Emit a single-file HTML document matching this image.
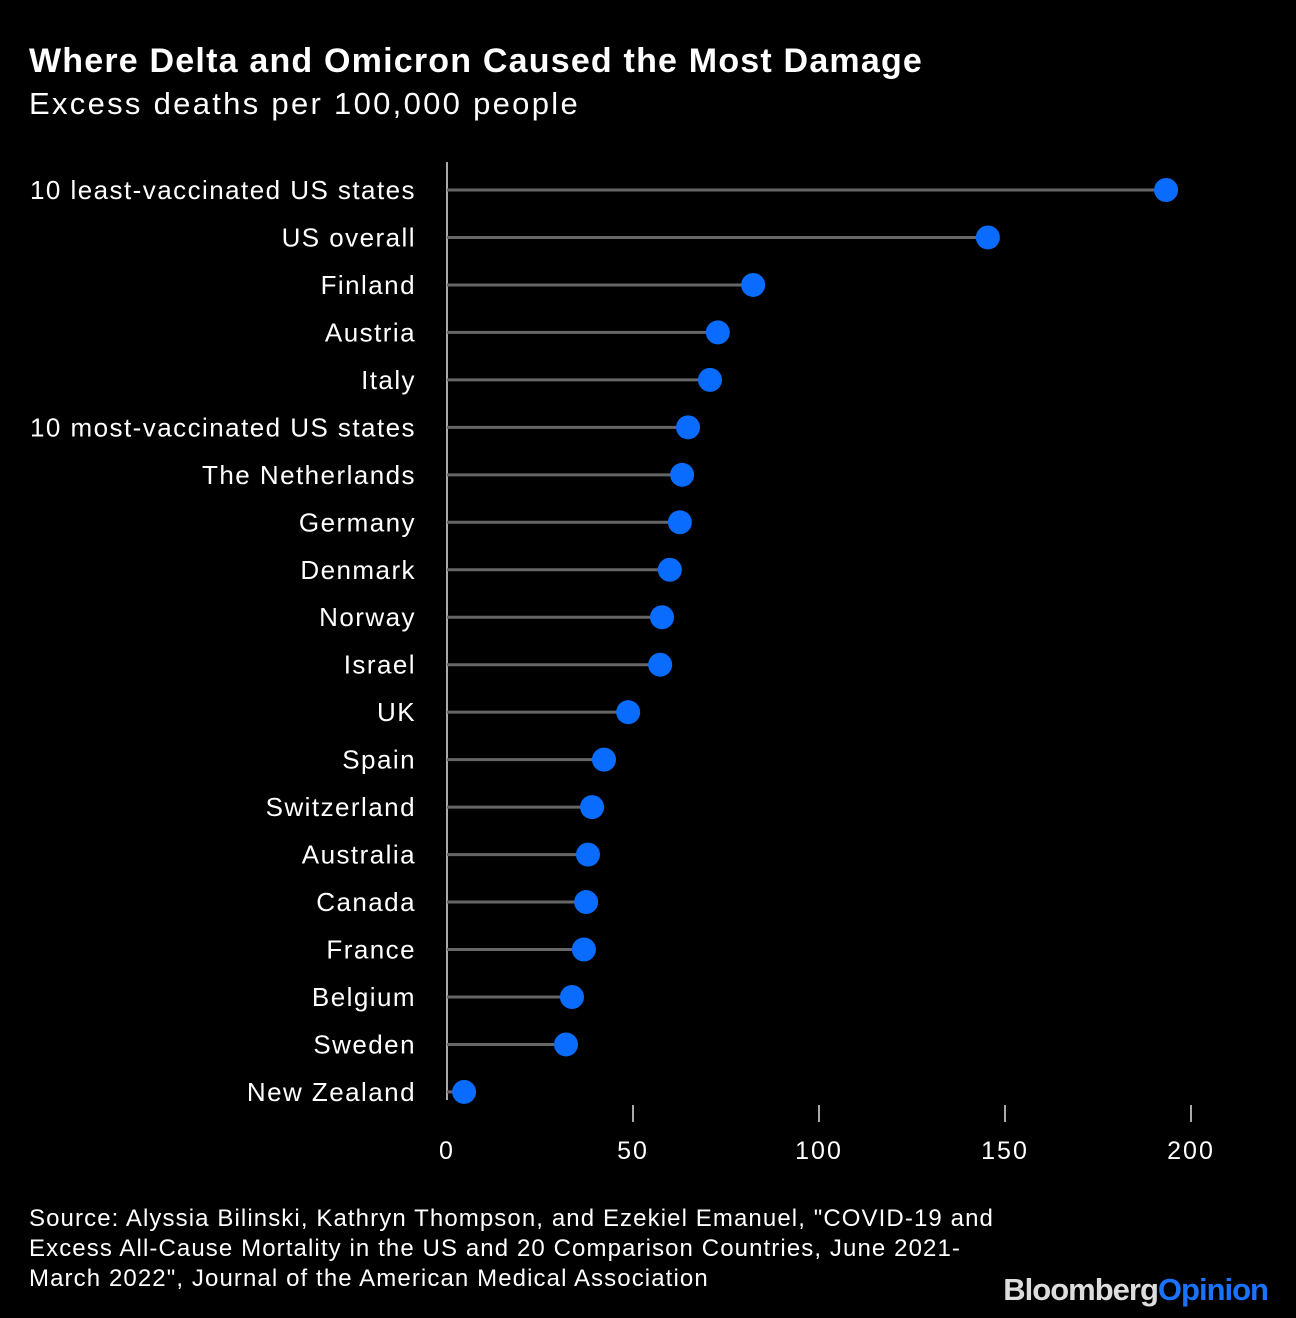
<!DOCTYPE html>
<html><head><meta charset="utf-8"><style>
body{margin:0;background:#000;width:1296px;height:1318px;overflow:hidden;font-family:"Liberation Sans",sans-serif;color:#fff}
.t{position:absolute;left:29px;top:42px;font-size:34px;font-weight:bold;letter-spacing:1.2px}
.s{position:absolute;left:29px;top:86px;font-size:31px;letter-spacing:2.3px}
.src{position:absolute;left:29px;top:1204px;font-size:24px;line-height:30px;white-space:nowrap;letter-spacing:1.1px}
.logo{position:absolute;right:28px;top:1272px;font-size:31px;font-weight:bold;letter-spacing:-1px}
</style></head><body>
<div class="t">Where Delta and Omicron Caused the Most Damage</div>
<div class="s">Excess deaths per 100,000 people</div>
<svg id="c" width="1296" height="1318" style="position:absolute;left:0;top:0"></svg>
<div class="src">Source: Alyssia Bilinski, Kathryn Thompson, and Ezekiel Emanuel, "COVID-19 and<br>Excess All-Cause Mortality in the US and 20 Comparison Countries, June 2021-<br>March 2022", Journal of the American Medical Association</div>
<div class="logo"><span style="color:#ddd">Bloomberg</span><span style="color:#1a73ff">Opinion</span></div>
<script>
const categories=["10 least-vaccinated US states","US overall","Finland","Austria","Italy","10 most-vaccinated US states","The Netherlands","Germany","Denmark","Norway","Israel","UK","Spain","Switzerland","Australia","Canada","France","Belgium","Sweden","New Zealand"];
const values=[193.3,145.4,82.3,72.8,70.7,64.8,63.2,62.6,59.9,57.8,57.3,48.7,42.2,39.0,37.9,37.4,36.8,33.6,32.0,4.6];
const ticks=[0,50,100,150,200];
const NS="http://www.w3.org/2000/svg";
const svg=document.getElementById('c');
const x=v=>447+v*3.72;
const y=i=>190+i*47.47;
function mk(t,a){const e=document.createElementNS(NS,t);for(const k in a)e.setAttribute(k,a[k]);svg.appendChild(e);return e;}
const ax=mk('line',{x1:447,x2:447,y1:162,y2:1100,stroke:'#aaa','stroke-width':2});


ticks.forEach(t=>{
 if(t>0){const l=mk('line',{x1:x(t),x2:x(t),y1:1105,y2:1122,stroke:'#aaa','stroke-width':2});
 
 }
 const tx=mk('text',{x:x(t),y:1159,'text-anchor':'middle','font-size':25,'letter-spacing':2,fill:'#fff'});
 tx.textContent=t;
 
 
});
categories.forEach((c,i)=>{
 const lb=mk('text',{x:416,y:y(i)+9,'text-anchor':'end','font-size':26,'letter-spacing':1.45,fill:'#fff'});
 lb.textContent=c;
 
 
 const st=mk('line',{x1:447,x2:x(values[i]),y1:y(i),y2:y(i),stroke:'#666','stroke-width':3});
 
 
 const d=mk('circle',{cx:x(values[i]),cy:y(i),r:12,fill:'#0a6cff'});
 
 
});
</script>
</body></html>
